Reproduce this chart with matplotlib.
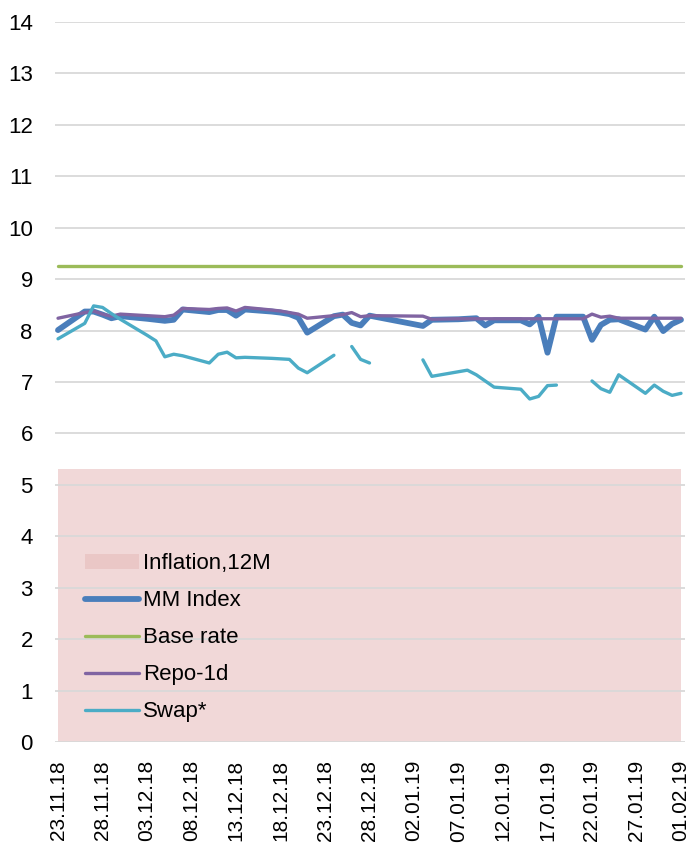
import matplotlib
matplotlib.use("Agg")
import matplotlib.pyplot as plt
import matplotlib.dates as mdates
import numpy as np
import pandas as pd

plt.rcParams['font.family'] = ['Liberation Sans', 'DejaVu Sans']

dates = ["23.11.18", "26.11.18", "27.11.18", "28.11.18", "29.11.18", "30.11.18",
         "03.12.18", "04.12.18", "05.12.18", "06.12.18", "07.12.18",
         "10.12.18", "11.12.18", "12.12.18", "13.12.18", "14.12.18",
         "17.12.18", "18.12.18", "19.12.18", "20.12.18", "21.12.18",
         "24.12.18", "25.12.18", "26.12.18", "27.12.18", "28.12.18",
         "02.01.19", "03.01.19", "04.01.19",
         "07.01.19", "08.01.19", "09.01.19", "10.01.19", "11.01.19",
         "14.01.19", "15.01.19", "16.01.19", "17.01.19", "18.01.19",
         "21.01.19", "22.01.19", "23.01.19", "24.01.19", "25.01.19",
         "28.01.19", "29.01.19", "30.01.19", "31.01.19", "01.02.19"]

nan = np.nan
mm_index = [8.01, 8.37, 8.37, 8.31, 8.24, 8.28,
            8.23, 8.21, 8.19, 8.21, 8.41,
            8.36, 8.40, 8.40, 8.29, 8.41,
            8.37, 8.35, 8.32, 8.25, 7.96,
            8.28, 8.31, 8.15, 8.10, 8.29,
            nan, 8.09, 8.21,
            8.22, 8.23, 8.24, 8.10, 8.20,
            8.20, 8.12, 8.27, 7.57, 8.27,
            8.27, 7.82, 8.11, 8.21, 8.22,
            8.02, 8.27, 7.99, 8.13, 8.21]

repo_1d = [8.24, 8.35, 8.38, 8.32, 8.28, 8.32,
           8.29, 8.28, 8.27, 8.30, 8.43,
           8.41, 8.43, 8.44, 8.38, 8.45,
           8.40, 8.38, 8.35, 8.32, 8.24,
           8.29, 8.31, 8.35, 8.27, 8.29,
           nan, 8.28, 8.22,
           8.23, 8.23, 8.23, 8.23, 8.23,
           8.23, 8.23, 8.23, 8.23, 8.23,
           8.23, 8.32, 8.26, 8.28, 8.24,
           8.24, 8.24, 8.24, 8.24, 8.24]

swap = [7.84, 8.14, 8.48, 8.45, 8.33, 8.22,
        7.91, 7.80, 7.49, 7.54, 7.51,
        7.37, 7.54, 7.58, 7.47, 7.48,
        7.46, 7.45, 7.44, 7.27, 7.18,
        7.52, nan, 7.69, 7.44, 7.37,
        nan, 7.43, 7.11,
        7.20, 7.23, 7.14, 7.02, 6.90,
        6.86, 6.67, 6.72, 6.93, 6.94,
        nan, 7.02, 6.87, 6.80, 7.14,
        6.78, 6.94, 6.82, 6.74, 6.78]

base_rate = [9.25] * len(dates)
inflation = [5.3] * len(dates)

x = pd.to_datetime(dates, format="%d.%m.%y")
mm = np.array(mm_index)
rp = np.array(repo_1d)
sw = np.array(swap)

fig = plt.figure(figsize=(6.91, 8.47), dpi=100)
ax = fig.add_axes([55/691, 105/847, 630/691, 720/847])

ax.fill_between(x, 0, inflation, color='#e6b9b8', alpha=0.55, linewidth=0,
                label='Inflation,12M', zorder=1)
m_ok = ~np.isnan(mm)
ax.plot(x[m_ok], mm[m_ok], color='#4a7ebb', lw=4.2, solid_capstyle='round',
        solid_joinstyle='round', label='MM Index', zorder=3)
ax.plot(x, base_rate, color='#9bbb59', lw=2.4, solid_capstyle='round', label='Base rate', zorder=4)
r_ok = ~np.isnan(rp)
ax.plot(x[r_ok], rp[r_ok], color='#8064a2', lw=2.4, solid_capstyle='round',
        solid_joinstyle='round', label='Repo-1d', zorder=5)
ax.plot(x, sw, color='#4bacc6', lw=2.4, solid_capstyle='round',
        solid_joinstyle='round', label='Swap*', zorder=6)

ax.set_ylim(0, 14)
ax.set_yticks(range(0, 15))
start = pd.Timestamp('2018-11-23')
end = pd.Timestamp('2019-02-01')
ax.set_xlim(start - pd.Timedelta(days=0.34), end + pd.Timedelta(days=0.45))
ax.set_xticks(pd.date_range(start, end, freq='5D'))
ax.xaxis.set_major_formatter(mdates.DateFormatter('%d.%m.%y'))

ax.grid(axis='y', color='#d9d9d9', lw=1.3, zorder=2)
ax.set_axisbelow(False)
for s in ax.spines.values():
    s.set_visible(False)
ax.tick_params(axis='both', length=0, colors='black')
ax.tick_params(axis='y', pad=16, labelsize=16)
ax.tick_params(axis='x', pad=13, labelsize=15)
for lab in ax.get_xticklabels():
    lab.set_rotation(90)
    lab.set_ha('center')

leg = ax.legend(loc='lower left', bbox_to_anchor=(0.041, 0.021), frameon=False,
                fontsize=16, handlelength=2.4, handletextpad=0.2, labelspacing=0.72,
                borderpad=0.2, borderaxespad=0)

fig.savefig('out.png', dpi=100)
